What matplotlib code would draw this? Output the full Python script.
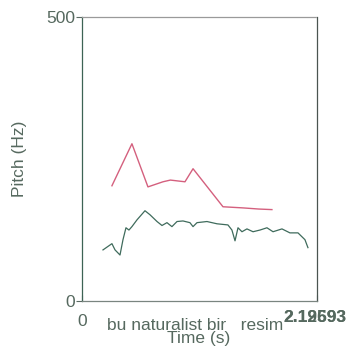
import matplotlib
matplotlib.use("Agg")
import matplotlib.pyplot as plt

# pitch contours (time in s, pitch in Hz)
red_t = [0.271, 0.452, 0.597, 0.733, 0.800, 0.932, 1.005, 1.276, 1.457, 1.600, 1.719]
red_f = [203, 277, 201, 210, 213, 210, 233, 166, 164, 162, 161]

green_t = [0.190, 0.271, 0.299, 0.344, 0.371, 0.398, 0.425, 0.452, 0.498, 0.570,
           0.615, 0.679, 0.724, 0.769, 0.814, 0.860, 0.914, 0.977, 1.005, 1.041,
           1.131, 1.222, 1.321, 1.357, 1.385, 1.412, 1.448, 1.493, 1.548, 1.611,
           1.674, 1.729, 1.810, 1.882, 1.955, 2.018, 2.045]
green_f = [90, 101, 90, 81, 108, 129, 125, 131, 143, 159,
           152, 140, 133, 138, 131, 140, 141, 138, 131, 138,
           140, 136, 134, 125, 106, 129, 122, 127, 122, 125,
           129, 122, 127, 120, 120, 108, 94]

x_max = 2.12693
y_max = 500
end_labels = ["2.12693", "2.19593"]
words = "bu naturalist bir   resim"

text_col = "#56695f"
font = "Liberation Sans"
fs = 12.5

fig = plt.figure(figsize=(3.51, 3.50), dpi=100)
ax = fig.add_axes([0.2336, 0.14, 0.6695, 0.811])

ax.plot(red_t, red_f, color="#d4607e", linewidth=1.0)
ax.plot(green_t, green_f, color="#3f6b5c", linewidth=0.9)

ax.set_xlim(0, x_max)
ax.set_ylim(0, y_max)

# spines
ax.spines["left"].set_color("#3d6354")
ax.spines["right"].set_color("#4a5550")
ax.spines["top"].set_color("#9a9a9a")
ax.spines["top"].set_linestyle((0, (3, 1)))
ax.spines["bottom"].set_color("#7a8580")
for s in ax.spines.values():
    s.set_linewidth(0.9)

ax.set_yticks([0, y_max])
ax.set_yticklabels(["0", "500"], fontsize=fs, color=text_col, family=font)
ax.set_xticks([0, x_max])
ax.set_xticklabels(["0", ""], fontsize=fs, color=text_col, family=font)
ax.tick_params(axis="y", length=4, width=0.8, color="#5a6b62", pad=1)
ax.tick_params(axis="x", length=4, width=0.8, color="#5a6b62", direction="in", pad=9)

# overlapping end-time labels
for lab in end_labels:
    fig.text(315 / 351, (350 - 318) / 350, lab, ha="center", va="center",
             fontsize=fs, fontweight="bold", color=text_col, family=font)

ax.set_ylabel("Pitch (Hz)", fontsize=fs, color=text_col, family=font, labelpad=14)
fig.text(107 / 351, (350 - 326) / 350, words, ha="left", va="center",
         fontsize=fs, color=text_col, family=font)
fig.text(199 / 351, (350 - 339) / 350, "Time (s)", ha="center", va="center",
         fontsize=fs, color=text_col, family=font)

fig.savefig("out.png", dpi=100)
